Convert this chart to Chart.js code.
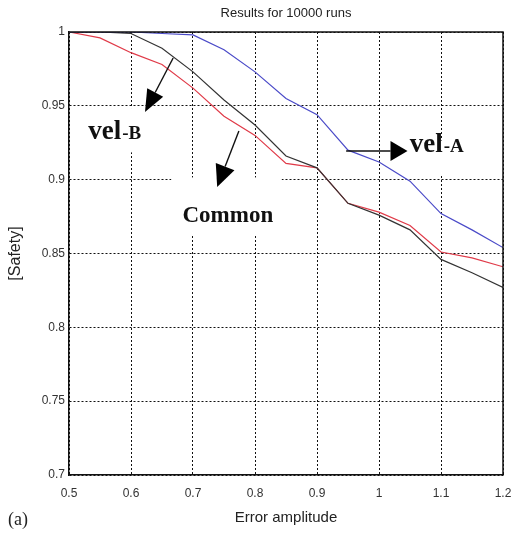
<!DOCTYPE html>
<html>
<head>
<meta charset="utf-8">
<script src="https://cdn.jsdelivr.net/npm/chart.js@4/dist/chart.umd.min.js"></script>
<style>
  html, body { margin: 0; padding: 0; background: #fff; }
  #wrap { width: 517px; height: 535px; }
</style>
</head>
<body>
<div id="wrap"><canvas id="safetyChart" width="517" height="535"></canvas></div>
<script>
// 误差幅值（横轴）
const errorAmplitude = [0.5, 0.55, 0.6, 0.65, 0.7, 0.75, 0.8, 0.85, 0.9, 0.95, 1.0, 1.05, 1.1, 1.15, 1.2];
// 各方法的安全性
const velA   = [1.0, 1.0, 1.0, 0.999, 0.998, 0.988, 0.973, 0.955, 0.944, 0.920, 0.912, 0.899, 0.877, 0.866, 0.854];
const velB   = [1.0, 1.0, 0.999, 0.989, 0.973, 0.954, 0.937, 0.916, 0.908, 0.884, 0.876, 0.866, 0.846, 0.837, 0.827];
const common = [1.0, 0.996, 0.986, 0.978, 0.962, 0.943, 0.930, 0.911, 0.908, 0.884, 0.878, 0.869, 0.851, 0.847, 0.841];

// 刻度
const xTicks = [0.5, 0.6, 0.7, 0.8, 0.9, 1.0, 1.1, 1.2];
const xTickLabels = ['0.5', '0.6', '0.7', '0.8', '0.9', '1', '1.1', '1.2'];
const yTicks = [0.7, 0.75, 0.8, 0.85, 0.9, 0.95, 1.0];
const yTickLabels = ['0.7', '0.75', '0.8', '0.85', '0.9', '0.95', '1'];

const toPoints = (ys) => errorAmplitude.map((x, i) => ({ x: x, y: ys[i] }));

// 注释：文字背景遮挡网格，箭头和文字
const annotationPlugin = {
    id: 'annotations',
    beforeDatasetsDraw(chart) {
        const ctx = chart.ctx;
        const xs = chart.scales.x, ys = chart.scales.y;
        const box = (x0, y0, x1, y1) => {
            const l = xs.getPixelForValue(x0), r = xs.getPixelForValue(x1);
            const t = ys.getPixelForValue(y0), b = ys.getPixelForValue(y1);
            ctx.fillRect(l, t, r - l, b - t);
        };
        ctx.save();
        ctx.fillStyle = '#ffffff';
        box(0.528, 0.9485, 0.670, 0.9185);   // vel-B
        box(0.665, 0.9015, 0.843, 0.8625);   // Common
        box(1.026, 0.9265, 1.145, 0.9025);   // vel-A
        ctx.restore();
    },
    afterDatasetsDraw(chart) {
        const ctx = chart.ctx;
        const xs = chart.scales.x, ys = chart.scales.y;
        const px = (v) => xs.getPixelForValue(v);
        const py = (v) => ys.getPixelForValue(v);

        const arrow = (x0, y0, x1, y1, len, half) => {
            const a = px(x0), b = py(y0), c = px(x1), d = py(y1);
            const ang = Math.atan2(d - b, c - a);
            const bx = c - len * Math.cos(ang), by = d - len * Math.sin(ang);
            ctx.beginPath();
            ctx.moveTo(a, b);
            ctx.lineTo(bx, by);
            ctx.stroke();
            ctx.beginPath();
            ctx.moveTo(c, d);
            ctx.lineTo(bx + half * Math.sin(ang), by - half * Math.cos(ang));
            ctx.lineTo(bx - half * Math.sin(ang), by + half * Math.cos(ang));
            ctx.closePath();
            ctx.fill();
        };

        ctx.save();
        ctx.strokeStyle = '#111';
        ctx.fillStyle = '#000';
        ctx.lineWidth = 1.4;
        arrow(0.668, 0.9824, 0.6226, 0.9458, 22, 9);   // vel-B
        arrow(0.774, 0.933, 0.739, 0.895, 22, 10);     // Common
        arrow(0.947, 0.9194, 1.046, 0.9194, 17, 10);   // vel-A

        const label = (big, small, x, y) => {
            ctx.font = 'bold 27px "Liberation Serif", "DejaVu Serif", serif';
            ctx.textAlign = 'left';
            ctx.textBaseline = 'alphabetic';
            ctx.fillStyle = '#111';
            const w = ctx.measureText(big).width;
            ctx.fillText(big, px(x), py(y));
            ctx.font = 'bold 19px "Liberation Serif", "DejaVu Serif", serif';
            ctx.fillText(small, px(x) + w + 1, py(y));
        };
        label('vel', '-B', 0.531, 0.9275);
        label('vel', '-A', 1.0495, 0.9187);

        ctx.font = 'bold 23px "Liberation Serif", "DejaVu Serif", serif';
        ctx.fillText('Common', px(0.683), py(0.8715));
        ctx.restore();
    },
    afterDraw(chart) {
        const ctx = chart.ctx;
        const a = chart.chartArea;
        ctx.save();
        // 顶部和右侧边框
        ctx.strokeStyle = '#111';
        ctx.lineWidth = 1.5;
        ctx.beginPath();
        ctx.moveTo(a.left, a.top);
        ctx.lineTo(a.right, a.top);
        ctx.lineTo(a.right, a.bottom);
        ctx.stroke();
        // 子图编号
        ctx.fillStyle = '#222';
        ctx.font = '18px "Liberation Serif", "DejaVu Serif", serif';
        ctx.textAlign = 'left';
        ctx.textBaseline = 'middle';
        ctx.fillText('(a)', 8, 520);
        ctx.restore();
    }
};

const sansFont = '"Liberation Sans", Arial, sans-serif';
const tickFont = { family: sansFont, size: 12 };
const gridOpts = {
    color: '#111',
    lineWidth: 1,
    drawTicks: false
};

new Chart(document.getElementById('safetyChart').getContext('2d'), {
    type: 'line',
    data: {
        datasets: [
            {
                label: 'vel-A',
                data: toPoints(velA),
                borderColor: '#4a4ac8',
                borderWidth: 1.2,
                pointRadius: 0,
                tension: 0
            },
            {
                label: 'vel-B',
                data: toPoints(velB),
                borderColor: '#333333',
                borderWidth: 1.2,
                pointRadius: 0,
                tension: 0
            },
            {
                label: 'Common',
                data: toPoints(common),
                borderColor: '#e03a48',
                borderWidth: 1.2,
                pointRadius: 0,
                tension: 0
            }
        ]
    },
    options: {
        responsive: false,
        animation: false,
        layout: { padding: { left: 0, right: 14, top: 0, bottom: 0 } },
        plugins: {
            legend: { display: false },
            tooltip: { enabled: false },
            title: {
                display: true,
                text: 'Results for 10000 runs',
                fullSize: false,
                color: '#222',
                font: { family: sansFont, size: 13, weight: 'normal', lineHeight: 1.2 },
                padding: { top: 6, bottom: 10.4 }
            }
        },
        scales: {
            x: {
                type: 'linear',
                min: 0.5,
                max: 1.2,
                afterBuildTicks: (scale) => { scale.ticks = xTicks.map(v => ({ value: v })); },
                afterFit: (scale) => {
                    scale.height = 60;
                    scale.paddingLeft = 0;
                    scale.paddingRight = 0;
                },
                ticks: {
                    font: tickFont,
                    color: '#333',
                    padding: 11,
                    maxRotation: 0,
                    callback: (value, index) => xTickLabels[index]
                },
                grid: gridOpts,
                border: { display: true, color: '#111', width: 1.5, dash: [2, 2] },
                title: {
                    display: true,
                    text: 'Error amplitude',
                    color: '#222',
                    font: { family: sansFont, size: 15, lineHeight: 1.2 },
                    padding: { top: 0, bottom: 8 }
                }
            },
            y: {
                type: 'linear',
                min: 0.7,
                max: 1.0,
                afterBuildTicks: (scale) => { scale.ticks = yTicks.map(v => ({ value: v })); },
                afterFit: (scale) => {
                    scale.width = 69;
                    scale.paddingTop = 0;
                    scale.paddingBottom = 0;
                },
                ticks: {
                    font: tickFont,
                    color: '#333',
                    padding: 4,
                    callback: (value, index) => yTickLabels[index]
                },
                grid: gridOpts,
                border: { display: true, color: '#111', width: 1.5, dash: [2, 2] },
                title: {
                    display: true,
                    text: '[Safety]',
                    color: '#222',
                    font: { family: sansFont, size: 16, lineHeight: 1.2 },
                    padding: { top: 6, bottom: 0 }
                }
            }
        }
    },
    plugins: [annotationPlugin]
});
</script>
</body>
</html>
